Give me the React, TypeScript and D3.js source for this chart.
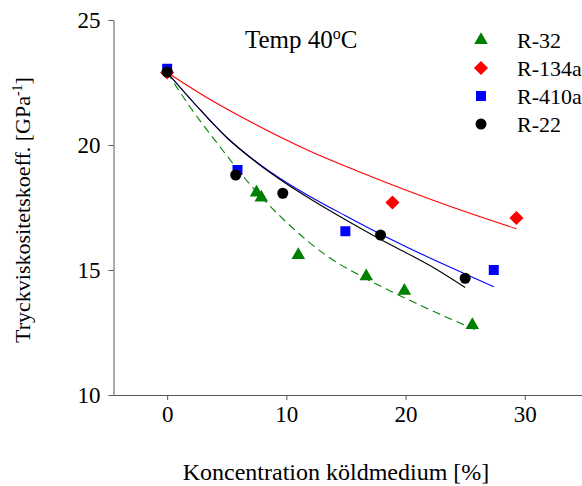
import React, { useEffect, useRef } from 'react';
import * as d3 from 'd3';

const SERIES = ['R-32', 'R-134a', 'R-410a', 'R-22'];
const COLORS = ['#008000', '#ff0000', '#0000ff', '#000000'];

// measured points [concentration %, coefficient]
const R32_PTS = [[7.5, 18.1], [7.9, 17.9], [11.0, 15.6], [16.7, 14.75], [19.9, 14.17], [25.6, 12.8]];
const R134A_PTS = [[0, 22.9], [18.9, 17.7], [29.3, 17.08]];
const R410A_PTS = [[0, 23.05], [5.9, 19.0], [14.95, 16.55], [27.4, 15.0]];
const R22_PTS = [[0, 22.92], [5.75, 18.8], [9.7, 18.07], [17.9, 16.4], [25.0, 14.67]];

// fitted curves
const R32_FIT = [[0, 22.9], [2.1, 21.4], [4.4, 19.95], [6.6, 18.62], [9.7, 17.05], [13.6, 15.5], [16.4, 14.72], [19.2, 14.05], [22, 13.42], [25.8, 12.62]];
const R134A_FIT = [[0, 22.9], [3.5, 21.85], [7.5, 20.8], [12, 19.75], [16, 18.95], [20, 18.2], [24, 17.5], [29.3, 16.65]];
const R410A_FIT = [[0, 22.9], [2.5, 21.55], [5, 20.3], [7.5, 19.32], [10, 18.5], [12.5, 17.8], [15, 17.16], [17.8, 16.46], [20, 15.94], [22.5, 15.38], [25, 14.84], [27.4, 14.33]];
const R22_FIT = [[0, 22.9], [2.5, 21.55], [5, 20.3], [7.5, 19.3], [10, 18.45], [12.5, 17.7], [15, 17.0], [17.8, 16.25], [20, 15.7], [22.5, 15.05], [25, 14.3]];

const X_TICKS = [0, 10, 20, 30];
const Y_TICKS = [10, 15, 20, 25];

const FONT = '"Liberation Serif", "Times New Roman", serif';

const App = () => {
  const ref = useRef<SVGSVGElement>(null);

  useEffect(() => {
    const svg = d3.select(ref.current);
    svg.selectAll('*').remove();

    const x = d3.scaleLinear().domain([-4.5, 34.8]).range([113.5, 582]);
    const y = d3.scaleLinear().domain([10, 25]).range([395, 20]);

    const xAxis = svg.append('g').attr('transform', 'translate(0,395)')
      .call(d3.axisBottom(x).tickValues(X_TICKS).tickSize(5).tickSizeOuter(0).tickPadding(6));
    const yAxis = svg.append('g').attr('transform', 'translate(113.5,0)')
      .call(d3.axisLeft(y).tickValues(Y_TICKS).tickSize(5).tickSizeOuter(0).tickPadding(8));
    [xAxis, yAxis].forEach(a => {
      a.selectAll('path,line').attr('stroke', '#555');
      a.selectAll('text').attr('fill', '#000').style('font-family', FONT).style('font-size', '23px');
    });

    const line = d3.line<number[]>().x(d => x(d[0])).y(d => y(d[1])).curve(d3.curveMonotoneX);
    const fits = [R32_FIT, R134A_FIT, R410A_FIT, R22_FIT];
    fits.forEach((f, i) => {
      svg.append('path').attr('d', line(f)).attr('fill', 'none')
        .attr('stroke', COLORS[i]).attr('stroke-width', 1.1)
        .attr('stroke-dasharray', i === 0 ? '8,5' : null);
    });

    const symbols = [
      d3.symbol().type(d3.symbolTriangle).size(80),
      d3.symbol().type(d3.symbolSquare).size(100),
      d3.symbol().type(d3.symbolSquare).size(100),
      d3.symbol().type(d3.symbolCircle).size(95),
    ];
    const rot = [0, 45, 0, 0];
    const pts = [R32_PTS, R134A_PTS, R410A_PTS, R22_PTS];
    pts.forEach((p, i) => {
      svg.append('g').selectAll('path').data(p).enter().append('path')
        .attr('d', symbols[i]() as string)
        .attr('transform', d => `translate(${x(d[0])},${y(d[1])}) rotate(${rot[i]})`)
        .attr('fill', COLORS[i]);
    });

    // legend
    const lg = svg.append('g');
    SERIES.forEach((s, i) => {
      const cy = 40 + i * 28;
      lg.append('path').attr('d', symbols[i]() as string)
        .attr('transform', `translate(481,${cy}) rotate(${rot[i]})`).attr('fill', COLORS[i]);
      lg.append('text').attr('x', 517).attr('y', cy + 8).text(s)
        .style('font-family', FONT).style('font-size', '22px');
    });

    // title
    const t = svg.append('text').attr('x', 245).attr('y', 48)
      .style('font-family', FONT).style('font-size', '25px');
    t.append('tspan').text('Temp 40');
    t.append('tspan').attr('dy', -9).style('font-size', '16px').text('o');
    t.append('tspan').attr('dy', 9).text('C');

    svg.append('text').attr('x', 336).attr('y', 480).attr('text-anchor', 'middle')
      .style('font-family', FONT).style('font-size', '24px').text('Koncentration köldmedium [%]');

    const yt = svg.append('text').attr('transform', 'translate(30,210) rotate(-90)')
      .attr('text-anchor', 'middle').style('font-family', FONT).style('font-size', '22px');
    yt.append('tspan').text('Tryckviskositetskoeff. [GPa');
    yt.append('tspan').attr('dy', -8).style('font-size', '14px').text('-1');
    yt.append('tspan').attr('dy', 8).text(']');
  }, []);

  return (
    <div className="App">
      <svg ref={ref} width={582} height={486} style={{ position: 'absolute', left: 0, top: 0, background: '#fff' }} />
    </div>
  );
};

export default App;
